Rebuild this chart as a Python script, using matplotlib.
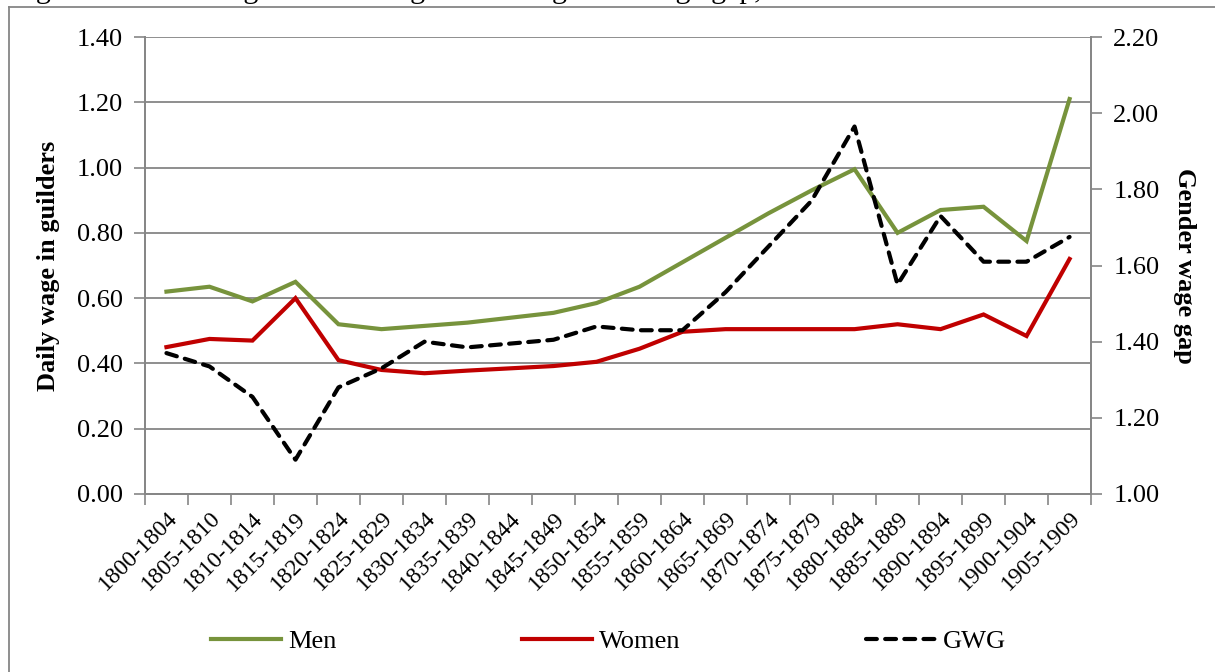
import matplotlib.pyplot as plt
from matplotlib.lines import Line2D

periods = ['1800-1804', '1805-1810', '1810-1814', '1815-1819', '1820-1824',
           '1825-1829', '1830-1834', '1835-1839', '1840-1844', '1845-1849',
           '1850-1854', '1855-1859', '1860-1864', '1865-1869', '1870-1874',
           '1875-1879', '1880-1884', '1885-1889', '1890-1894', '1895-1899',
           '1900-1904', '1905-1909']
men = [0.62, 0.635, 0.59, 0.65, 0.52, 0.505, 0.515, 0.525, 0.54, 0.555, 0.585,
       0.635, 0.71, 0.785, 0.86, 0.93, 0.995, 0.80, 0.87, 0.88, 0.775, 1.21]
women = [0.45, 0.475, 0.47, 0.60, 0.41, 0.38, 0.37, 0.378, 0.385, 0.392, 0.405,
         0.445, 0.497, 0.505, 0.505, 0.505, 0.505, 0.52, 0.505, 0.55, 0.484, 0.72]
gwg = [1.37, 1.335, 1.255, 1.09, 1.28, 1.33, 1.40, 1.385, 1.395, 1.405, 1.44,
       1.43, 1.43, 1.53, 1.65, 1.77, 1.965, 1.55, 1.73, 1.61, 1.61, 1.675]

plt.rcParams['font.family'] = ['Liberation Serif', 'DejaVu Serif']
grey = '#868686'
fs = 19

fig = plt.figure(figsize=(12.15, 6.72), dpi=100)
ax = fig.add_axes([0.1193, 0.2649, 0.898 - 0.1193, 0.9449 - 0.2649])
ax2 = ax.twinx()

x = list(range(len(periods)))
l1, = ax.plot(x, men, color='#77933C', lw=3.0, solid_joinstyle='miter', label='Men')
l2, = ax.plot(x, women, color='#C00000', lw=3.0, solid_joinstyle='miter', label='Women')
l3, = ax2.plot(x, gwg, color='black', lw=3.0, dashes=(2.6, 2.0),
               dash_capstyle='round', label='GWG')

ax.set_xlim(-0.5, len(periods) - 0.5)
ax.set_ylim(0, 1.4)
ax2.set_ylim(1.0, 2.2)
ax.set_yticks([i * 0.2 for i in range(8)])
ax2.set_yticks([1.0 + i * 0.2 for i in range(7)])
ax.set_yticklabels([f'{i * 0.2:.2f}' for i in range(8)])
ax2.set_yticklabels([f'{1.0 + i * 0.2:.2f}' for i in range(7)])

ax.set_xticks(x)
ax.set_xticklabels(periods, rotation=45, ha='right', va='top', rotation_mode='anchor')
ax.set_xticks([i - 0.5 for i in range(len(periods) + 1)], minor=True)
ax.tick_params(axis='x', which='major', length=0, pad=10, labelsize=17)
ax.tick_params(axis='x', which='minor', length=8, width=1.2, color=grey, direction='out')
ax.tick_params(axis='y', length=8, width=1.2, color=grey, labelsize=fs, pad=8)
ax2.tick_params(axis='y', length=8, width=1.2, color=grey, labelsize=fs, pad=8)

ax.grid(axis='y', color=grey, lw=1.3)
ax.set_axisbelow(True)
for a in (ax, ax2):
    a.spines['top'].set_visible(False)
    for s in ('left', 'right', 'bottom'):
        a.spines[s].set_color(grey)
        a.spines[s].set_linewidth(1.3)

ax.set_ylabel('Daily wage in guilders', fontsize=fs, fontweight='bold', labelpad=12)
ax2.set_ylabel('Gender wage gap', fontsize=fs, fontweight='bold', rotation=270, labelpad=26)

fig.legend(handles=[l1, l2, l3], loc='center', bbox_to_anchor=(0.501, 0.045), ncol=3,
           frameon=False, fontsize=fs, handlelength=2.65, handletextpad=0.25,
           columnspacing=7.05)

# outer frame of the figure box
fig.add_artist(Line2D([9 / 1215, 9 / 1215], [0, 1 - 7 / 672], color=grey, lw=1.3))
fig.add_artist(Line2D([9 / 1215, 1], [1 - 7 / 672, 1 - 7 / 672], color=grey, lw=1.3))

fig.text(11 / 1215, 1 + 2 / 672,
         'Figure 4.1 Casual agricultural wages and the gender wage gap, 1800-1909',
         fontsize=21.5, ha='left', va='baseline')

fig.savefig('out.png', dpi=100)
